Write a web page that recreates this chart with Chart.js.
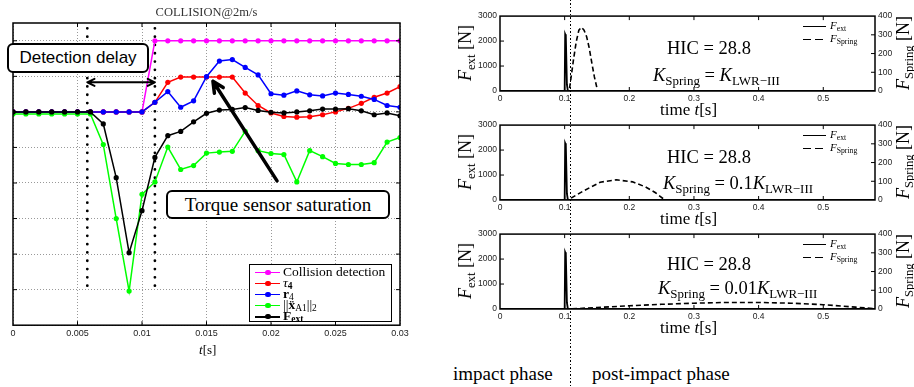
<!DOCTYPE html>
<html>
<head>
<meta charset="utf-8">
<script src="https://cdn.jsdelivr.net/npm/chart.js@4.4.0/dist/chart.umd.min.js"></script>
<style>
html, body { margin: 0; padding: 0; background: #fff; }
#page { position: relative; width: 914px; height: 387px; overflow: hidden; font-family: 'Liberation Serif', serif; color: #000; }
canvas { position: absolute; }
.txt { position: absolute; white-space: nowrap; line-height: 1; }
sub { font-size: 70%; vertical-align: -0.3em; line-height: 0; }
.box { position: absolute; box-sizing: border-box; border: 2.5px solid #000; border-radius: 6px; background: #fff;
       display: flex; align-items: center; justify-content: center; white-space: nowrap; }
.rot { transform: translate(-50%, -50%) rotate(-90deg); }
#legL { position: absolute; left: 249px; top: 264px; width: 143px; height: 58px; box-sizing: border-box;
        border: 1.5px solid #000; background: #fff; padding-top: 0.5px; font-size: 13.5px; }
#legL div { height: 11.1px; line-height: 11.1px; white-space: nowrap; }
#legL sub { vertical-align: -0.2em; }
.sw { display: inline-block; position: relative; width: 25px; height: 1.6px; background: currentColor; vertical-align: middle; margin: 0 3px 0 5px; }
.sw::after { content: ''; position: absolute; left: 10px; top: -2px; width: 5.5px; height: 5.5px; border-radius: 50%; background: currentColor; }
.rleg { position: absolute; left: 803px; font-size: 11px; }
.rleg div { height: 13px; line-height: 13px; white-space: nowrap; }
.rs { display: inline-block; width: 23px; height: 1.5px; vertical-align: middle; margin-right: 4px; background: #000; }
.rs.dash { background: repeating-linear-gradient(to right, #000 0 8px, transparent 8px 12px); }
</style>
</head>
<body>
<div id="page">
  <canvas id="cL" width="414" height="387" style="left:0;top:0"></canvas>
</div>
<script>
// ---- left panel: COLLISION@2m/s (signals normalised, no y labels) ----
const tL = [0, 0.001, 0.002, 0.003, 0.004, 0.005, 0.006, 0.007, 0.008, 0.009, 0.01,
            0.011, 0.012, 0.013, 0.014, 0.015, 0.016, 0.017, 0.018, 0.019, 0.02,
            0.021, 0.022, 0.023, 0.024, 0.025, 0.026, 0.027, 0.028, 0.029, 0.03];
const collision = [6, 6, 6, 6, 6, 6, 6, 6, 6, 6, 6,
                   8, 8, 8, 8, 8, 8, 8, 8, 8, 8, 8, 8, 8, 8, 8, 8, 8, 8, 8, 8];
const tau4 = [6, 6, 6, 6, 6, 6, 6, 6, 6, 6, 6,
              6.27, 6.83, 6.98, 6.98, 6.98, 6.98, 6.98, 6.53, 6.18, 5.97,
              5.87, 5.85, 5.86, 5.92, 6.0, 6.1, 6.24, 6.41, 6.53, 6.71];
const r4 = [6, 6, 6, 6, 6, 6, 6, 6, 6, 6, 6,
            6.27, 6.57, 6.13, 6.31, 6.99, 7.43, 7.47, 7.25, 7.04, 6.51,
            6.47, 6.59, 6.48, 6.45, 6.53, 6.49, 6.44, 6.35, 6.18, 6.13];
const accA1 = [5.94, 5.94, 5.94, 5.94, 5.94, 5.94, 5.94, 5.08, 3.0, 0.96, 3.68,
               4.03, 5.01, 4.38, 4.49, 4.84, 4.87, 4.89, 5.45, 4.91, 4.83,
               4.80, 4.03, 4.91, 4.74, 4.55, 4.52, 4.52, 4.57, 5.15, 5.28];
const fextL = [6, 6, 6, 6, 6, 6, 6, 5.66, 4.15, 2.04, 3.22,
               4.72, 5.33, 5.45, 5.72, 5.96, 6.05, 6.07, 6.12, 6.04, 5.99,
               5.97, 6.0, 6.03, 6.08, 6.08, 6.09, 6.03, 5.92, 5.97, 5.89];
const xTicksL = [0, 0.005, 0.01, 0.015, 0.02, 0.025, 0.03];
const xLabelsL = ['0', '0.005', '0.01', '0.015', '0.02', '0.025', '0.03'];
const yGridL = [0, 1, 2, 3, 4, 5, 6, 7, 8];

// detection delay markers
const detectStart = 0.00576, detectEnd = 0.011;
const detectLow = 1.0, detectHigh = 8.35, delayLevel = 6.83;
const satFrom = [0.02047, 4.06], satTo = [0.0155, 6.86];

// ---- right panels: F_ext [N] (left axis) and F_Spring [N] (right axis) vs time [s] ----
const fextT = [0, 0.1, 0.1008, 0.1018, 0.1035, 0.105, 0.58];
const fextV = [0, 0, 2270, 2200, 250, 0, 0];
const springT1 = [0, 0.107, 0.110, 0.114, 0.118, 0.122, 0.126, 0.130, 0.134, 0.138, 0.142, 0.146, 0.151, 0.58];
const springV1 = [0, 0, 75, 175, 265, 325, 340, 325, 290, 230, 150, 75, 0, 0];
const springT2 = [0, 0.108, 0.11, 0.13, 0.155, 0.18, 0.205, 0.225, 0.24, 0.252, 0.255, 0.58];
const springV2 = [0, 0, 10, 50, 95, 108, 97, 70, 40, 8, 0, 0];
const springT3 = [0, 0.108, 0.15, 0.2, 0.25, 0.3, 0.35, 0.4, 0.45, 0.5, 0.55, 0.58];
const springV3 = [0, 0, 8, 17, 25, 31, 35, 35, 31, 23, 10, 2];
const springCoef = ['', '0.1', '0.01'];
const hicValue = '28.8';
const xTicksR = [0, 0.1, 0.2, 0.3, 0.4, 0.5];
const xLabelsR = ['0', '0.1', '0.2', '0.3', '0.4', '0.5'];
const fTicks = [0, 1000, 2000, 3000];
const sTicks = [0, 100, 200, 300, 400];
const phaseT = 0.1085;

const page = document.getElementById('page');
const pts = (xs, ys) => xs.map((x, i) => ({x: x, y: ys[i]}));
const setTicks = vals => s => { s.ticks = vals.map(v => ({value: v})); };

// box around plot area + inward tick marks (matlab style)
const framePlugin = {
  id: 'frame',
  afterDatasetsDraw(chart) {
    const {ctx, chartArea: a, scales} = chart;
    const len = 4;
    ctx.save();
    ctx.strokeStyle = '#000';
    ctx.lineWidth = 1;
    ctx.beginPath();
    scales.x.ticks.forEach(t => {
      const p = scales.x.getPixelForValue(t.value);
      if (p <= a.left + 1 || p >= a.right - 1) return;
      ctx.moveTo(p, a.bottom); ctx.lineTo(p, a.bottom - len);
      ctx.moveTo(p, a.top); ctx.lineTo(p, a.top + len);
    });
    const yl = scales.y, yr = scales.y2 || scales.y;
    yl.ticks.forEach(t => {
      const p = yl.getPixelForValue(t.value);
      if (p >= a.bottom - 1 || p <= a.top + 1) return;
      ctx.moveTo(a.left, p); ctx.lineTo(a.left + len, p);
    });
    yr.ticks.forEach(t => {
      const p = yr.getPixelForValue(t.value);
      if (p >= a.bottom - 1 || p <= a.top + 1) return;
      ctx.moveTo(a.right, p); ctx.lineTo(a.right - len, p);
    });
    ctx.stroke();
    ctx.lineWidth = 1.5;
    ctx.strokeRect(a.left, a.top, a.right - a.left, a.bottom - a.top);
    ctx.restore();
  }
};

function arrowHead(ctx, x0, y0, x1, y1, size) {
  const ang = Math.atan2(y1 - y0, x1 - x0);
  ctx.moveTo(x1 - size * Math.cos(ang - 0.45), y1 - size * Math.sin(ang - 0.45));
  ctx.lineTo(x1, y1);
  ctx.lineTo(x1 - size * Math.cos(ang + 0.45), y1 - size * Math.sin(ang + 0.45));
}

const leftNotes = {
  id: 'leftNotes',
  beforeDatasetsDraw(chart) {
    const {ctx, scales: {x, y}} = chart;
    ctx.save();
    ctx.setLineDash([0, 8.3]);
    ctx.lineCap = 'round';
    ctx.lineWidth = 2.8;
    ctx.strokeStyle = '#000';
    [detectStart, detectEnd].forEach(t => {
      ctx.beginPath();
      ctx.moveTo(x.getPixelForValue(t), y.getPixelForValue(detectHigh));
      ctx.lineTo(x.getPixelForValue(t), y.getPixelForValue(detectLow));
      ctx.stroke();
    });
    ctx.restore();
  },
  afterDraw(chart) {
    const {ctx, scales: {x, y}} = chart;
    ctx.save();
    ctx.strokeStyle = '#000';
    ctx.lineCap = 'round';
    ctx.lineJoin = 'round';
    // detection delay double arrow
    const ax0 = x.getPixelForValue(detectStart), ax1 = x.getPixelForValue(detectEnd);
    const ay = y.getPixelForValue(delayLevel);
    ctx.lineWidth = 2;
    ctx.beginPath();
    ctx.moveTo(ax0, ay); ctx.lineTo(ax1, ay);
    arrowHead(ctx, ax0, ay, ax1, ay, 8);
    arrowHead(ctx, ax1, ay, ax0, ay, 8);
    ctx.stroke();
    // torque saturation arrow
    const sx0 = x.getPixelForValue(satFrom[0]), sy0 = y.getPixelForValue(satFrom[1]);
    const sx1 = x.getPixelForValue(satTo[0]), sy1 = y.getPixelForValue(satTo[1]);
    ctx.lineWidth = 3.5;
    ctx.beginPath();
    ctx.moveTo(sx0, sy0); ctx.lineTo(sx1, sy1);
    arrowHead(ctx, sx0, sy0, sx1, sy1, 12);
    ctx.stroke();
    ctx.restore();
  }
};

const leftSeries = [
  {data: collision, color: '#ff00ff', html: 'Collision detection'},
  {data: tau4, color: '#ff0000', html: '<i>τ</i><sub><b>4</b></sub>'},
  {data: r4, color: '#0000ff', html: '<b>r</b><sub>4</sub>'},
  {data: accA1, color: '#00ff00', html: '||<b>ẍ</b><sub>A1</sub>||<sub>2</sub>'},
  {data: fextL, color: '#000000', html: '<b>F</b><sub><b>ext</b></sub>'}
];

new Chart(document.getElementById('cL'), {
  type: 'line',
  data: {
    datasets: leftSeries.map((s, i) => ({
      data: pts(tL, s.data),
      borderColor: s.color,
      backgroundColor: s.color,
      pointBackgroundColor: s.color,
      borderWidth: 1.5,
      pointRadius: 2.6,
      pointBorderWidth: 0,
      tension: 0,
      order: leftSeries.length - i
    }))
  },
  options: {
    responsive: false,
    animation: false,
    layout: {padding: {left: 13, right: 14, top: 0, bottom: 45}},
    plugins: {
      legend: {display: false},
      tooltip: {enabled: false},
      title: {
        display: true, text: 'COLLISION@2m/s', color: '#333',
        font: {family: 'Liberation Serif', size: 12.5, weight: 'normal'},
        padding: {top: 5, bottom: 3}
      }
    },
    scales: {
      x: {
        type: 'linear', min: 0, max: 0.03,
        afterBuildTicks: setTicks(xTicksL),
        ticks: {callback: (v, i) => xLabelsL[i], font: {family: 'Liberation Sans', size: 9}, color: '#222', padding: 3, maxRotation: 0},
        grid: {color: '#999', lineWidth: 1, drawTicks: false},
        border: {display: false, dash: [1, 2]}
      },
      y: {
        min: 0, max: 8.5,
        afterBuildTicks: setTicks(yGridL),
        ticks: {display: false},
        grid: {color: '#999', lineWidth: 1, drawTicks: false},
        border: {display: false, dash: [1, 2]}
      }
    }
  },
  plugins: [leftNotes, framePlugin]
});

function addTxt(html, left, top, size, extra) {
  const d = document.createElement('div');
  d.className = 'txt';
  d.style.left = left + 'px';
  d.style.top = top + 'px';
  d.style.fontSize = size + 'px';
  if (extra) d.style.cssText += extra;
  d.innerHTML = html;
  page.appendChild(d);
  return d;
}

// left panel overlays
const box1 = document.createElement('div');
box1.className = 'box';
box1.style.cssText += 'left:7px;top:43px;width:142px;height:30px;font:17px "Liberation Sans",sans-serif;';
box1.textContent = 'Detection delay';
page.appendChild(box1);
const box2 = document.createElement('div');
box2.className = 'box';
box2.style.cssText += 'left:166px;top:190px;width:224px;height:29px;font:19px "Liberation Serif",serif;';
box2.textContent = 'Torque sensor saturation';
page.appendChild(box2);

const legL = document.createElement('div');
legL.id = 'legL';
legL.innerHTML = leftSeries.map(s => '<div><span class="sw" style="color:' + s.color + '"></span>' + s.html + '</div>').join('');
page.appendChild(legL);
addTxt('<i>t</i>[s]', 199, 343, 13);

// right panels
const rightTops = [14, 123, 232];
const hicOffset = [25, 25, 23];
const kOffset = [52, 51, 47];
const kLeft = [653, 663, 658];
const plotH = 77;
const springSets = [[springT1, springV1], [springT2, springV2], [springT3, springV3]];
let firstRight = null;

springSets.forEach((sp, i) => {
  const top = rightTops[i];
  const cv = document.createElement('canvas');
  cv.width = 474;
  cv.height = plotH + 20;
  cv.style.left = '440px';
  cv.style.top = (top - 6) + 'px';
  page.appendChild(cv);
  const ch = new Chart(cv, {
    type: 'line',
    data: {
      datasets: [
        {data: pts(fextT, fextV), yAxisID: 'y', borderColor: '#000', borderWidth: 1.8, pointRadius: 0, tension: 0},
        {data: pts(sp[0], sp[1]), yAxisID: 'y2', borderColor: '#000', borderWidth: 1.6, borderDash: [5, 3], pointRadius: 0, tension: 0}
      ]
    },
    options: {
      responsive: false,
      animation: false,
      layout: {padding: {left: 0, right: 0, top: 6, bottom: 0}},
      plugins: {legend: {display: false}, tooltip: {enabled: false}},
      scales: {
        x: {
          type: 'linear', min: 0, max: 0.58,
          afterBuildTicks: setTicks(xTicksR),
          afterFit: s => { s.height = 14; },
          ticks: {callback: (v, k) => xLabelsR[k], font: {family: 'Liberation Sans', size: 8.5}, color: '#222', padding: 3, maxRotation: 0},
          grid: {display: false, drawTicks: false},
          border: {display: false}
        },
        y: {
          position: 'left', min: 0, max: 3000,
          afterBuildTicks: setTicks(fTicks),
          afterFit: s => { s.width = 60; },
          ticks: {callback: v => String(v), font: {family: 'Liberation Sans', size: 8.5}, color: '#222', padding: 3},
          grid: {display: false, drawTicks: false},
          border: {display: false}
        },
        y2: {
          position: 'right', min: 0, max: 400,
          afterBuildTicks: setTicks(sTicks),
          afterFit: s => { s.width = 39; },
          ticks: {callback: v => String(v), font: {family: 'Liberation Sans', size: 8.5}, color: '#222', padding: 3},
          grid: {display: false, drawTicks: false},
          border: {display: false}
        }
      }
    },
    plugins: [framePlugin]
  });
  if (!firstRight) firstRight = ch;

  addTxt('HIC = ' + hicValue, 667, top + hicOffset[i], 18.5);
  addTxt('<i>K</i><sub>Spring</sub> = ' + springCoef[i] + '<i>K</i><sub>LWR−III</sub>', kLeft[i], top + kOffset[i], 18.5);
  addTxt('time <i>t</i>[s]', 660, top + plotH + 10, 17);
  const lt = addTxt('<i>F</i><sub>ext</sub> [N]', 465, top + plotH / 2, 18);
  lt.classList.add('rot');
  const rt = addTxt('<i>F</i><sub>Spring</sub> [N]', 903, top + plotH / 2, 18);
  rt.classList.add('rot');
  const lg = document.createElement('div');
  lg.className = 'rleg';
  lg.style.top = (top + 5) + 'px';
  lg.innerHTML = '<div><span class="rs"></span><i>F</i><sub>ext</sub></div><div><span class="rs dash"></span><i>F</i><sub>Spring</sub></div>';
  page.appendChild(lg);
});

// impact / post-impact separator
const sepX = 440 + firstRight.scales.x.getPixelForValue(phaseT);
const sep = document.createElement('div');
sep.style.cssText = 'position:absolute;top:0;width:1.2px;height:387px;background:repeating-linear-gradient(to bottom,#000 0 1.2px,transparent 1.2px 3.5px);left:' + (sepX - 0.6) + 'px';
page.appendChild(sep);
addTxt('impact phase', 453, 364, 19);
addTxt('post-impact phase', 592, 364, 19);
</script>
</body>
</html>
